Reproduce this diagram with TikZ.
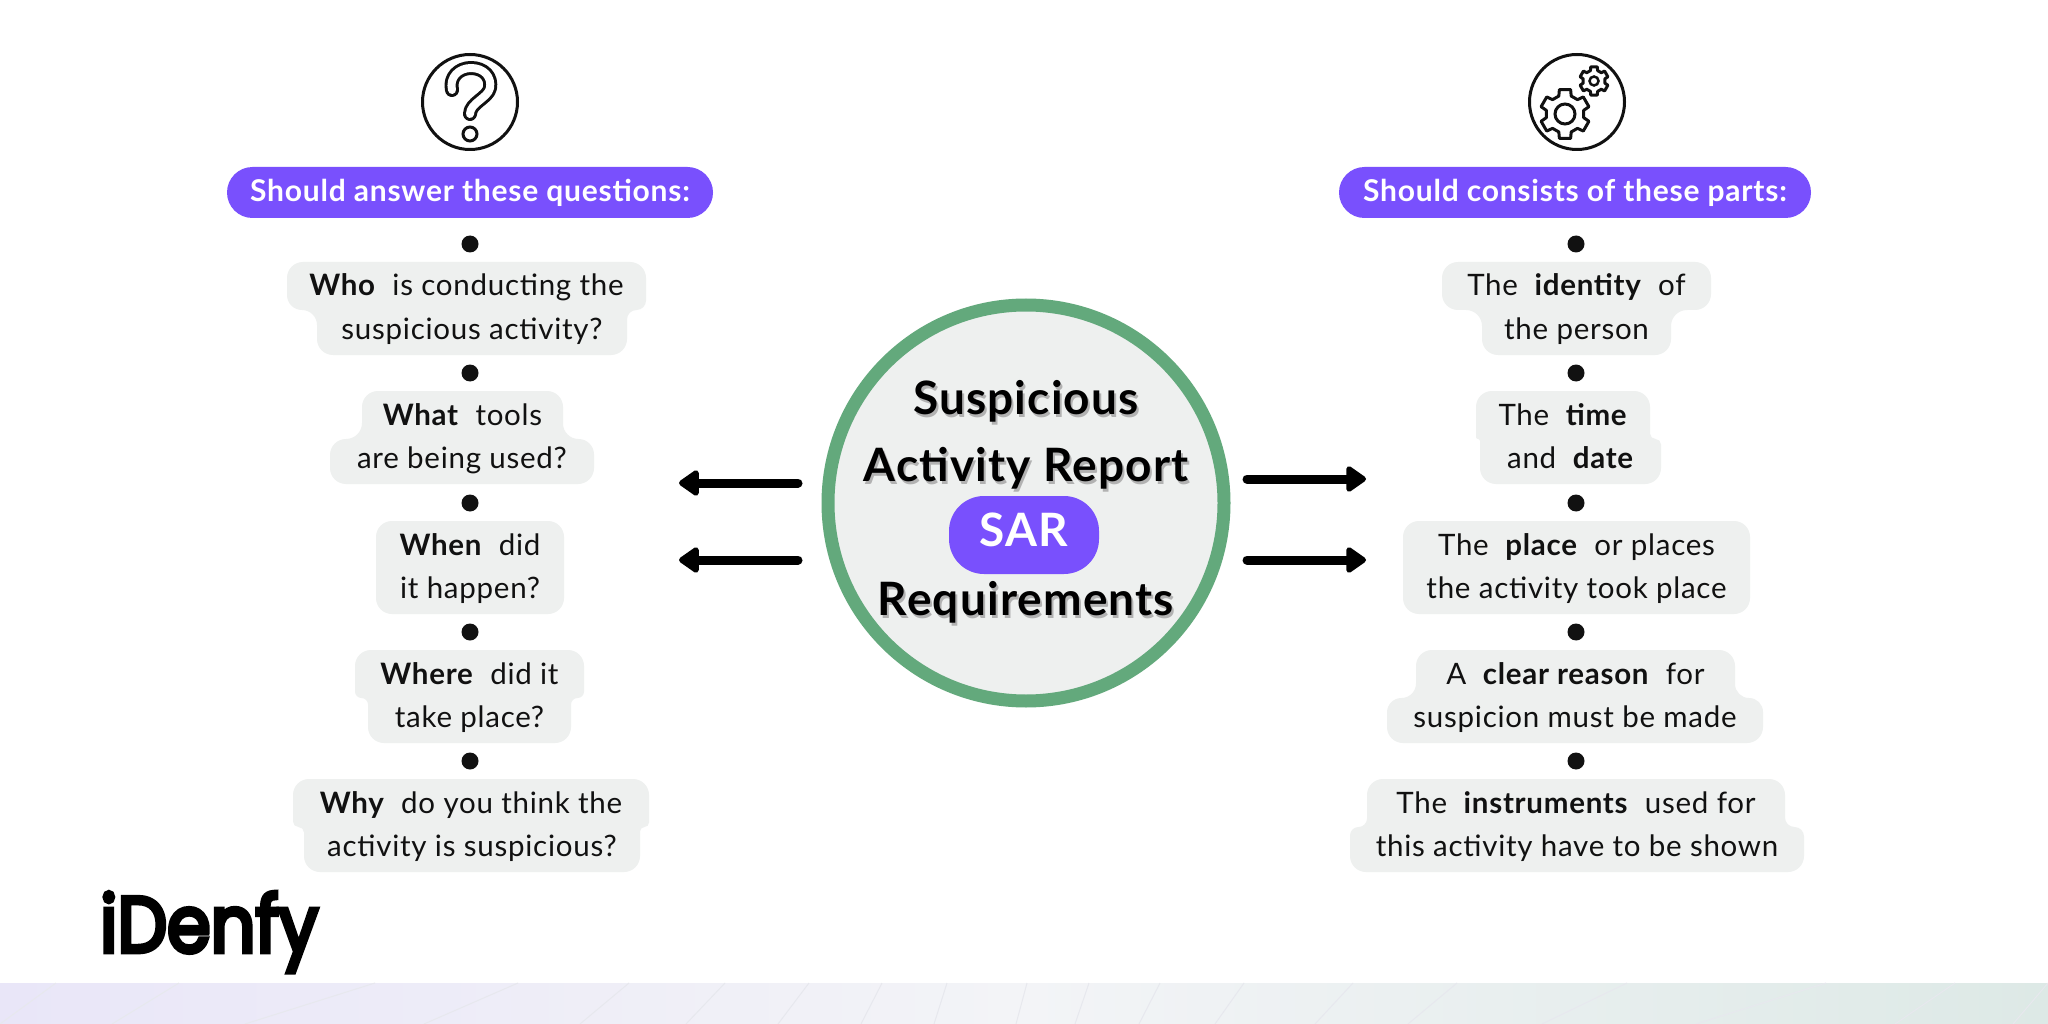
\documentclass[tikz,border=0pt]{standalone}
\usepackage{fontspec}
\usepackage{graphicx}
\setmainfont[LetterSpace=2.5]{Lato}
\newfontfamily\logofont[FakeBold=6]{Poppins}
\usetikzlibrary{arrows.meta,calc}
\definecolor{purp}{HTML}{7950FD}
\definecolor{bub}{HTML}{EEF0EF}
\definecolor{ringg}{HTML}{63A97C}
\definecolor{ink}{HTML}{111111}
\definecolor{bandL}{HTML}{E9E6F8}
\definecolor{bandM}{HTML}{F3F4F7}
\definecolor{bandR}{HTML}{DDE9E6}
\definecolor{bandline}{HTML}{E7E8EE}
\tikzset{
  linetext/.style={anchor=base,text=ink,font=\fontsize{29.5}{30}\selectfont,inner sep=0pt},
  headpill/.style={fill=purp,rounded corners=25.5pt,text=white,font=\fontsize{30}{30}\selectfont\bfseries,minimum height=51pt,inner sep=0pt},
  bulletdot/.style={circle,fill=ink,minimum size=17pt,inner sep=0pt},
  icon/.style={circle,draw=ink,line width=3pt,minimum size=95pt,inner sep=0pt},
  titletext/.style={anchor=base,font=\fontsize{46}{50}\selectfont\bfseries,text=black,inner sep=0pt},
  titleshadow/.style={anchor=base,font=\fontsize{46}{50}\selectfont\bfseries,text=black!30,inner sep=0pt},
  bigarrow/.style={line width=9pt,line cap=round,draw=black,-{Triangle[round,length=22pt,width=29pt]}},
  tube/.style={draw=ink,line width=3pt,double=white,double distance=8pt,line cap=round,line join=round},
  gearline/.style={draw=ink,line width=3pt,line join=round},
  bandstroke/.style={draw=bandline,line width=1pt}
}
% #1 name, #2 cx, #3 dot y, #4 x1, #5 x2 (top row), #6 x3, #7 x4 (bottom row), #8 top text, #9 bottom text
\newcommand{\bubblegroup}[9]{%
  \node[bulletdot] (#1dot) at (#2,#3) {};
  \pgfmathsetmacro\rrad{max(1,min(16,abs(#5-#7)/2))}%
  \pgfmathsetmacro\lrad{max(1,min(16,abs(#4-#6)/2))}%
  \fill[bub] [rounded corners=16pt] (#4,#3+18) -- (#5,#3+18) [rounded corners=\rrad pt] -- (#5,#3+66) -- (#7,#3+66) [rounded corners=16pt] -- (#7,#3+111) -- (#6,#3+111) [rounded corners=\lrad pt] -- (#6,#3+66) -- (#4,#3+66) [rounded corners=16pt] -- cycle;
  \node[linetext] (#1a) at ({(#4+#5)/2},#3+52) {#8};
  \node[linetext] (#1b) at ({(#6+#7)/2},#3+95) {#9};
}
\newcommand{\bubbleflat}[7]{%
  \node[bulletdot] (#1dot) at (#2,#3) {};
  \fill[bub,rounded corners=16pt] (#4,#3+18) rectangle (#5,#3+111);
  \node[linetext] (#1a) at ({(#4+#5)/2},#3+52) {#6};
  \node[linetext] (#1b) at ({(#4+#5)/2},#3+95) {#7};
}
\newcommand{\gearshape}[4]{% cx cy Router Rinner
  \draw[gearline,shift={(#1,#2)}] (90-13:#3) \foreach \a in {90,150,210,270,330,30}{ -- (\a-13:#3) -- (\a+13:#3) -- (\a+19:#4) -- (\a+41:#4)} -- cycle;
}
\begin{document}
\begin{tikzpicture}[x=1pt,y=-1pt]
\useasboundingbox (0,0) rectangle (2048,1024);
\fill[white] (0,0) rectangle (2048,1024);
% bottom band
\shade[left color=bandL,right color=bandR,middle color=bandM] (0,983) rectangle (2048,1024);
\foreach \xa/\xb in {56/0,179/112,375/245,518/424,629/580,725/686,809/778,882/861,947/934,1027/1016,1089/1075,1160/1139,1244/1215,1353/1315,1457/1408,1627/1542,1826/1696,1955/1895,2048/2013}{
  \draw[bandstroke] (\xa,983) -- (\xb,1024);
}
% icons
\node[icon] (qicon) at (470,102) {};
\draw[tube] (452,90) .. controls (449,77) and (459,68) .. (471,68) .. controls (484,68) and (492,77) .. (490,88) .. controls (488,98) and (470,103) .. (470,114);
\node[circle,draw=ink,line width=3pt,minimum size=14pt,inner sep=0pt] (qdot) at (470,134) {};
\node[icon] (gicon) at (1577,102) {};
\gearshape{1565}{114}{25}{19}
\node[circle,draw=ink,line width=3pt,minimum size=20pt,inner sep=0pt] (ghole) at (1565,114) {};
\gearshape{1594}{81}{14.5}{11}
\node[circle,draw=ink,line width=2.5pt,minimum size=9pt,inner sep=0pt] (ghole2) at (1594,81) {};
% header pills
\node[headpill,minimum width=486pt] (lhead) at (470,192.5) {Should answer these questions:};
\node[headpill,minimum width=472pt] (rhead) at (1575,192.5) {Should consists of these parts:};
% left column
\bubblegroup{who}{470}{244}{287}{646}{317}{627}{\textbf{Who}\ \ is conducting the}{suspicious activity?}
\bubblegroup{what}{470}{373}{362}{563}{330}{594}{\textbf{What}\ \ tools}{are being used?}
\bubbleflat{when}{470}{503}{376}{564}{\textbf{When}\ \ did}{it happen?}
\bubblegroup{where}{470}{632}{355}{584}{368}{571}{\textbf{Where}\ \ did it}{take place?}
\bubblegroup{why}{470}{761}{293}{649}{304}{640}{\textbf{Why}\ \ do you think the}{activity is suspicious?}
% right column
\bubblegroup{ident}{1576}{244}{1442}{1711}{1482}{1671}{The\ \ \textbf{identity}\ \ of}{the person}
\bubblegroup{time}{1576}{373}{1476}{1650}{1480}{1661}{The\ \ \textbf{time}}{and\ \ \textbf{date}}
\bubbleflat{place}{1576}{503}{1403}{1750}{The\ \ \textbf{place}\ \ or places}{the activity took place}
\bubblegroup{reason}{1576}{632}{1416}{1735}{1387}{1763}{A\ \ \textbf{clear reason}\ \ for}{suspicion must be made}
\bubblegroup{instr}{1576}{761}{1367}{1785}{1350}{1804}{The\ \ \textbf{instruments}\ \ used for}{this activity have to be shown}
% centre
\node[circle,fill=bub,draw=ringg,line width=13pt,minimum size=396pt,inner sep=0pt] (hub) at (1026,503) {};
\node[titleshadow] (t1s) at (1028,417) {Suspicious};
\node[titletext] (t1) at (1026,414) {Suspicious};
\node[titleshadow] (t2s) at (1028,484) {Activity Report};
\node[titletext] (t2) at (1026,481) {Activity Report};
\node[fill=purp,rounded corners=35pt,minimum width=150pt,minimum height=78pt,inner sep=0pt] (sarbg) at (1024,535) {};
\node[anchor=base,text=white,font=\fontsize{46}{50}\selectfont\bfseries,inner sep=0pt] (sar) at (1024,546) {SAR};
\node[titleshadow] (t3s) at (1028,618) {Requirements};
\node[titletext] (t3) at (1026,615) {Requirements};
% arrows
\coordinate (la1s) at (798,483); \coordinate (la1e) at (679,483);
\coordinate (la2s) at (798,560); \coordinate (la2e) at (679,560);
\coordinate (ra1s) at (1247,479); \coordinate (ra1e) at (1366,479);
\coordinate (ra2s) at (1247,560); \coordinate (ra2e) at (1366,560);
\draw[bigarrow] (la1s) -- (la1e);
\draw[bigarrow] (la2s) -- (la2e);
\draw[bigarrow] (ra1s) -- (ra1e);
\draw[bigarrow] (ra2s) -- (ra2e);
% logo
\node[anchor=base west,inner sep=0pt,text=black] (logo) at (100,952) {\resizebox{218pt}{60pt}{\logofont iDenfy}};
\end{tikzpicture}
\end{document}
